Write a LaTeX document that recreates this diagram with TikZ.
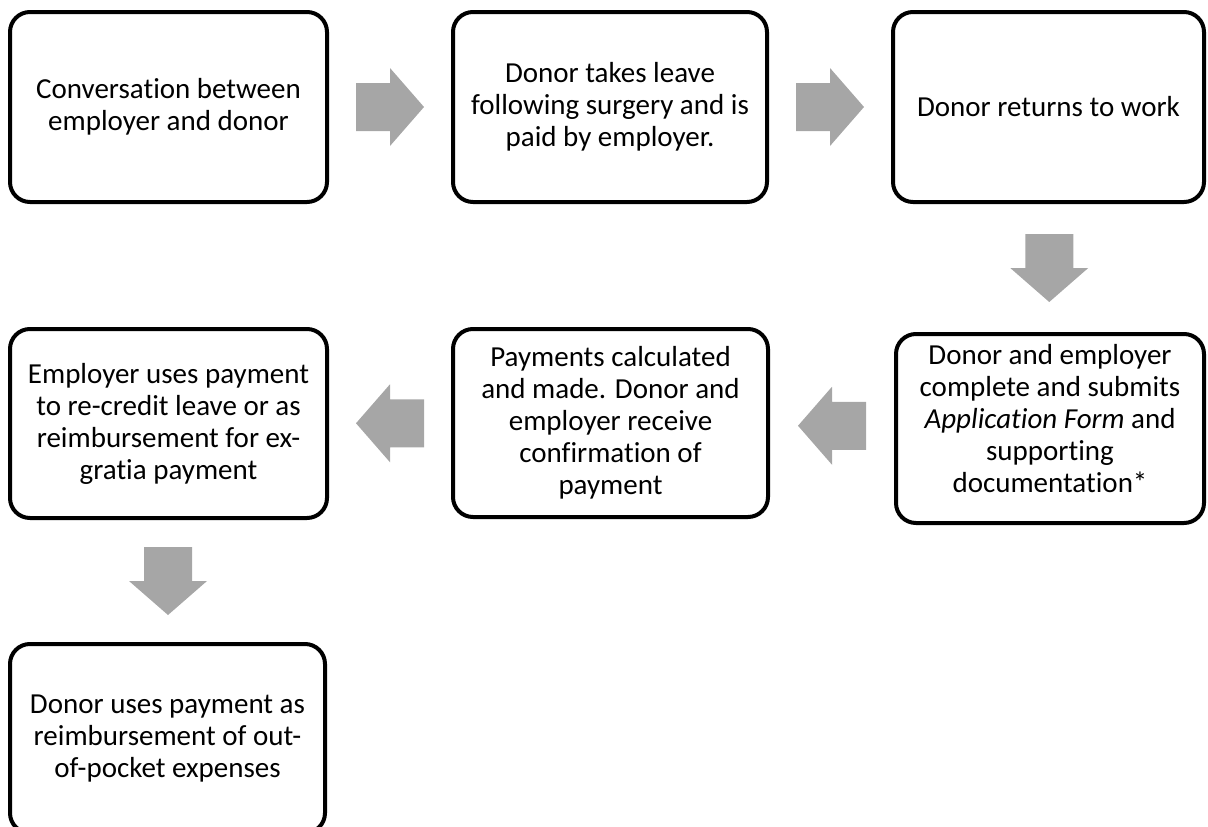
\documentclass[tikz,border=0pt]{standalone}
\usepackage{fontspec}
\setmainfont{Carlito}[Ligatures={NoCommon}]
\usetikzlibrary{calc}
\definecolor{arrowgray}{RGB}{166,166,166}
\tikzset{
  stepbox/.style={draw=black, line width=4pt, rounded corners=20pt, fill=white,
    align=center, inner sep=0pt, font=\fontsize{29}{32}\selectfont},
  blockarrow/.pic={\fill[arrowgray] (-34pt,24pt)--(0pt,24pt)--(0pt,39pt)--(34pt,0pt)--(0pt,-39pt)--(0pt,-24pt)--(-34pt,-24pt)--cycle;}
}
\begin{document}
\begin{tikzpicture}[x=1pt,y=1pt]
\useasboundingbox (0,0) rectangle (1208,-827);
\clip (0,0) rectangle (1208,-827);
\node[stepbox, minimum width=317pt, minimum height=190pt] (b1) at (168.5,-107) {Conversation between\\employer and donor};
\node[stepbox, minimum width=314pt, minimum height=190pt] (b2) at (610,-107) {Donor takes leave\\following surgery and is\\paid by employer.};
\node[stepbox, minimum width=311pt, minimum height=190pt] (b3) at (1048.5,-107) {Donor returns to work};
\node[stepbox, minimum width=308pt, minimum height=189pt] (b4) at (1050,-428.5) {};
\node[font=\fontsize{29}{32}\selectfont, align=center, inner sep=0pt] (t4) at (1050,-419) {Donor and employer\\complete and submits\\\textit{Application Form} and\\supporting\\documentation*};
\node[stepbox, minimum width=315pt, minimum height=188pt] (b5) at (610.5,-423) {Payments calculated\\and made. Donor and\\employer receive\\confirmation of\\payment};
\node[stepbox, minimum width=317pt, minimum height=189pt] (b6) at (168.5,-423.5) {Employer uses payment\\to re-credit leave or as\\reimbursement for ex-\\gratia payment};
\node[stepbox, minimum width=315pt, minimum height=189pt] (b7) at (167.5,-738.5) {Donor uses payment as\\reimbursement of out-\\of-pocket expenses};
% block arrows between the boxes
\path ($(b1.east)!0.5!(b2.west)$) pic {blockarrow};
\path ($(b2.east)!0.5!(b3.west)$) pic {blockarrow};
\path ($(b3.south)!0.5!(b4.north)$) pic[rotate=-90] {blockarrow};
\path ($(b4.west)!0.5!(b5.east)$) pic[rotate=180] {blockarrow};
\path ($(b5.west)!0.5!(b6.east)$) pic[rotate=180] {blockarrow};
\path ($(b6.south)!0.5!(b7.north)$) pic[rotate=-90] {blockarrow};
\end{tikzpicture}
\end{document}
